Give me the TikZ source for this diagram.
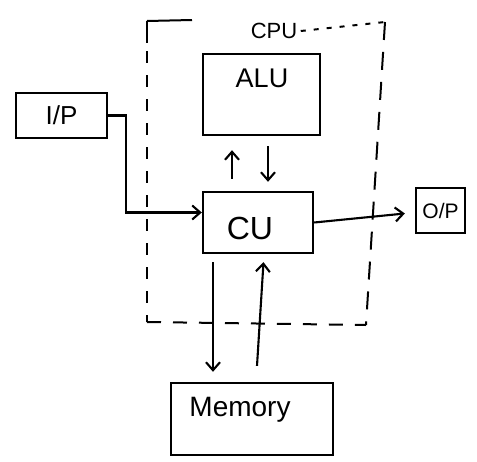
\documentclass[tikz,border=0pt]{standalone}
\usepackage{fontspec}
\setmainfont{Liberation Sans}
\usetikzlibrary{arrows.meta}
\begin{document}
\begin{tikzpicture}[x=1pt,y=-1pt,
  box/.style={draw,line width=2.4pt,rectangle,inner sep=0pt},
  lbl/.style={font=\fontsize{26}{30}\selectfont},
  conn/.style={line width=2.1pt,-{Straight Barb[length=8pt,width=14pt]}},
  cpuline/.style={line width=2pt}]
\useasboundingbox (0,0) rectangle (477,461);
% boxes
\node[box,minimum width=91pt,minimum height=45pt,lbl] (ip) at (61.5,115.5) {I/P};
\node[box,minimum width=117pt,minimum height=81pt] (alu) at (261.5,94.5) {};
\node[lbl,font=\fontsize{27}{30}\selectfont] (alulabel) at (262,78) {ALU};
\node[box,minimum width=110pt,minimum height=61pt] (cu) at (258,222.5) {};
\node[lbl,font=\fontsize{32}{36}\selectfont] (culabel) at (250,228) {CU};
\node[box,minimum width=49pt,minimum height=45pt,font=\fontsize{21}{24}\selectfont] (op) at (440.5,210.5) {O/P};
\node[box,minimum width=162pt,minimum height=72pt] (mem) at (252,419) {};
\node[lbl,font=\fontsize{28}{32}\selectfont] (memlabel) at (240,410) {Memory};
% CPU boundary
\node[font=\fontsize{22}{26}\selectfont] (cpulabel) at (274,31) {CPU};
\coordinate (tl) at (147,21);
\coordinate (tlend) at (192,20);
\coordinate (tr) at (385,22);
\coordinate (br) at (366,325);
\coordinate (bl) at (147,322);
\draw[cpuline] (tl) -- (tlend);
\draw[cpuline] (tl) -- ++(0,22);
\draw[cpuline,dash pattern=on 12pt off 12pt] ([yshift=-30pt]tl) -- (bl);
\draw[cpuline,dash pattern=on 5pt off 8pt] (cpulabel.east) -- (tr);
\draw[cpuline,dash pattern=on 18pt off 12pt] (tr) -- (br);
\draw[cpuline,dash pattern=on 14pt off 12pt] (bl) -- (br);
% connectors
\draw[conn] (ip.east) -- ++(18,0) |- ([yshift=10pt]cu.west);
\draw[conn,shorten <=12pt,shorten >=14pt] ([xshift=-26pt]cu.north) -- ([xshift=-29.5pt]alu.south);
\draw[conn,shorten <=10pt,shorten >=9pt] ([xshift=6.5pt]alu.south) -- ([xshift=10pt]cu.north);
\draw[conn,shorten >=10pt] (cu.east) -- ([yshift=-2pt]op.west);
\draw[conn,shorten <=8pt,shorten >=10pt] ([xshift=-45pt]cu.south) -- ([xshift=-39pt]mem.north);
\draw[conn,shorten <=16pt,shorten >=8pt] ([xshift=4pt]mem.north) -- ([xshift=6pt]cu.south);
\end{tikzpicture}
\end{document}
